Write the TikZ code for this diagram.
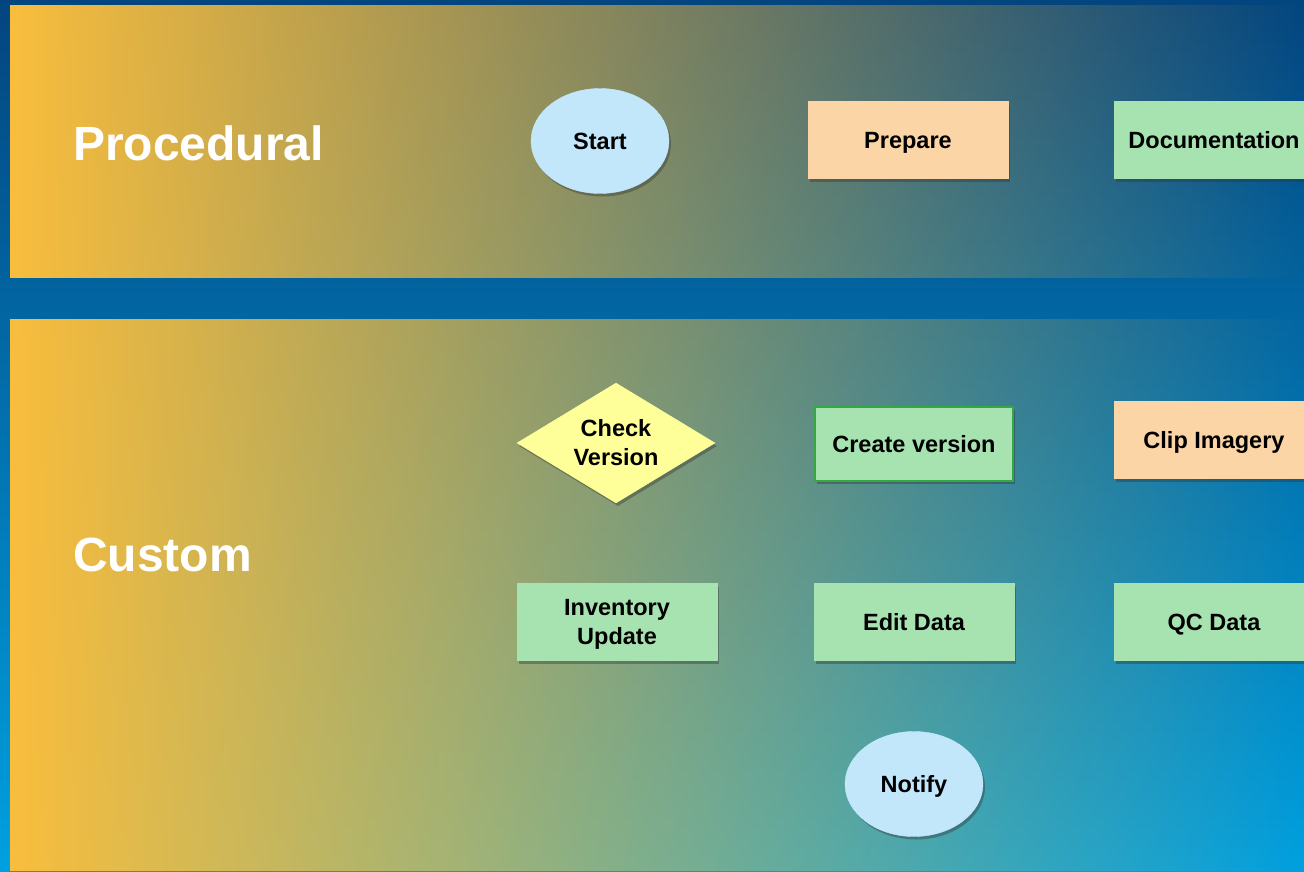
\documentclass[tikz,border=0pt]{standalone}
\usepackage{fontspec}
\setmainfont{Liberation Sans}
\usetikzlibrary{shapes.geometric,shadows,fadings}
\definecolor{bgtop}{HTML}{03457F}
\definecolor{bgbot}{HTML}{00A0E0}
\definecolor{panelY}{HTML}{F9BE3D}
\definecolor{ovalC}{HTML}{C2E7FB}
\definecolor{peachC}{HTML}{FCD5A6}
\definecolor{greenC}{HTML}{A7E3B0}
\definecolor{yelC}{HTML}{FFFF99}
\definecolor{borderG}{HTML}{35A845}
\tikzfading[name=fadeR, left color=transparent!0, middle color=transparent!40, right color=transparent!100]
\tikzset{
  shad/.style={drop shadow={shadow xshift=2pt, shadow yshift=-3pt, opacity=0.4, fill=black!80}},
  lbl/.style={font=\fontsize{23.5}{29}\selectfont\bfseries, text=black, align=center},
  oneline/.style={text height=17pt, text depth=0pt},
  oval/.style={ellipse, shad, lbl, oneline, fill=ovalC, draw=ovalC, minimum width=138pt, minimum height=105pt, inner sep=0pt},
  procbox/.style={rectangle, shad, lbl, draw=#1, fill=#1, minimum width=200pt, minimum height=77pt, inner sep=0pt},
  decide/.style={diamond, aspect=1.65, shad, lbl, fill=yelC, draw=yelC, minimum width=198pt, minimum height=120pt, inner sep=0pt},
  title/.style={font=\fontsize{48}{50}\selectfont\bfseries, text=white, anchor=base west, inner sep=0pt},
  panel/.style={fill=panelY, path fading=fadeR}
}
\begin{document}
\begin{tikzpicture}[x=1pt,y=-1pt]
\useasboundingbox (0,0) rectangle (1304,871);
\clip (0,0) rectangle (1304,871);
% background
\fill[top color=bgtop, bottom color=bgbot] (0,0) rectangle (1304,871);
% panels
\fill[panel] (10,5) rectangle (1304,278);
\fill[panel] (10,318) rectangle (1304,871);
% titles
\node[title] (proc) at (73,160) {Procedural};
\node[title] (cust) at (73,571) {Custom};
% procedural row
\node[oval] (start) at (600,141) {Start};
\node[procbox=peachC, oneline] (prepare) at (908,140) {Prepare};
\node[procbox=greenC, oneline] (doc) at (1214,140) {Documentation};
% custom
\node[decide] (check) at (616,443) {Check\\Version};
\node[procbox=greenC, oneline, draw=borderG, line width=2pt, minimum width=198pt, minimum height=74pt] (create) at (914,444) {Create version};
\node[procbox=peachC, oneline] (clipimg) at (1214,440) {Clip Imagery};
\node[procbox=greenC, text depth=-2pt] (inv) at (617,622) {Inventory\\Update};
\node[procbox=greenC, oneline] (edit) at (914,622) {Edit Data};
\node[procbox=greenC, oneline] (qc) at (1214,622) {QC Data};
\node[oval] (notify) at (914,784) {Notify};
\end{tikzpicture}
\end{document}
